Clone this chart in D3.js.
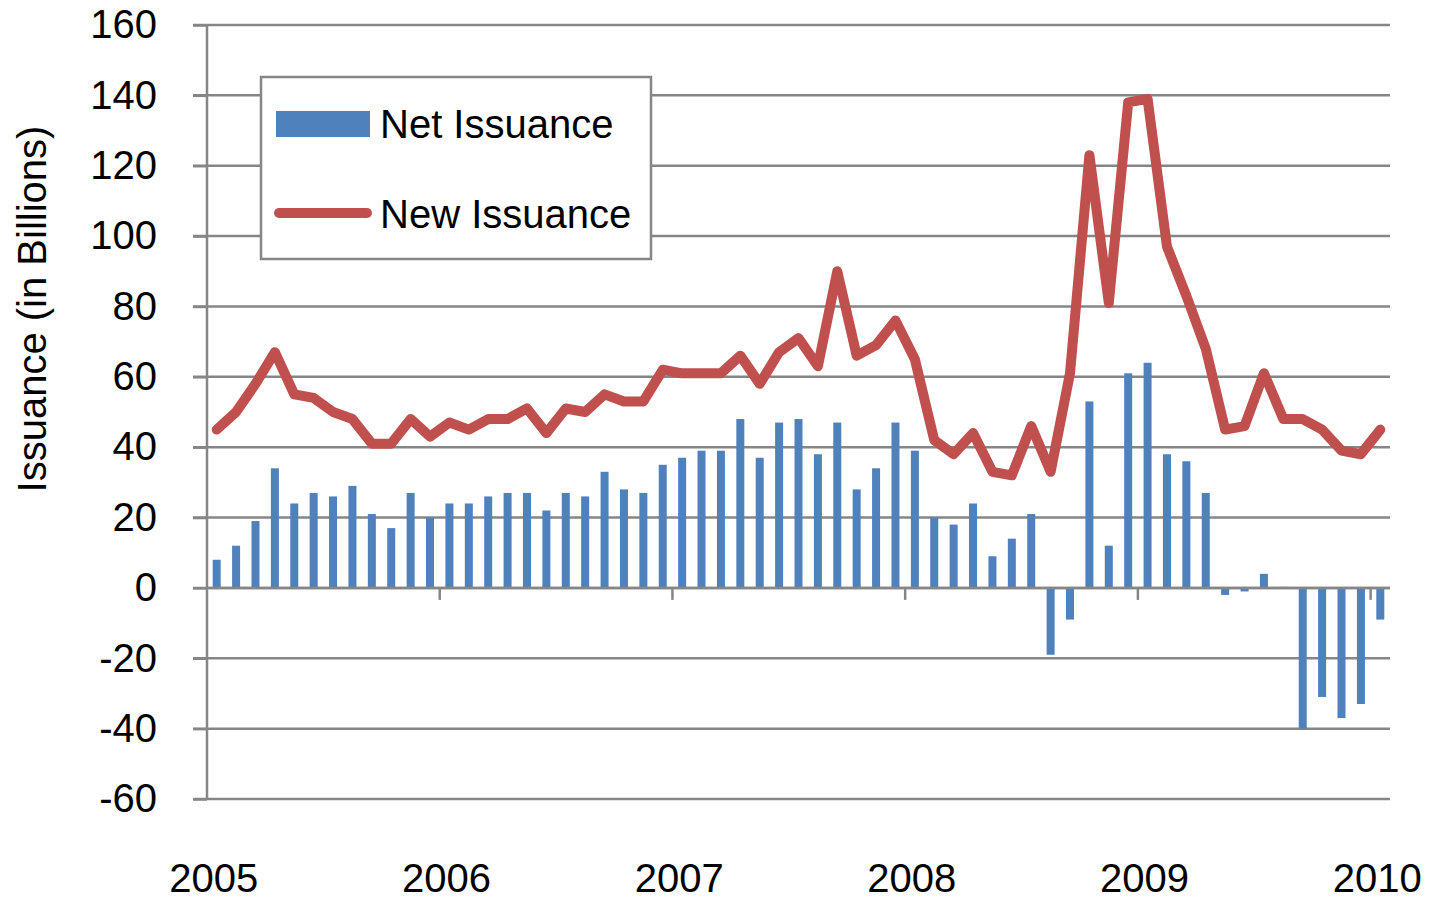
<!DOCTYPE html>
<html>
<head>
<meta charset="utf-8">
<script src="https://cdn.jsdelivr.net/npm/d3@7"></script>
<style>
  body { margin: 0; background: #fff; }
  text { font-family: "Liberation Sans", Arial, sans-serif; fill: #000; }
</style>
</head>
<body>
<div id="chart"></div>
<script>
// monthly categories, Jan 2005 .. Jan 2010
var months = d3.timeMonth.range(new Date(2005, 0, 1), new Date(2010, 1, 1));
var yearLabels = ["2005", "2006", "2007", "2008", "2009", "2010"];
var yTicks = [160, 140, 120, 100, 80, 60, 40, 20, 0, -20, -40, -60];

// Net Issuance (bars), billions
var netIssuance = [
  8, 12, 19, 34, 24, 27, 26, 29, 21, 17, 27, 20,
  24, 24, 26, 27, 27, 22, 27, 26, 33, 28, 27, 35,
  37, 39, 39, 48, 37, 47, 48, 38, 47, 28, 34, 47,
  39, 20, 18, 24, 9, 14, 21, -19, -9, 53, 12, 61,
  64, 38, 36, 27, -2, -1, 4, 0.3, -40, -31, -37, -33,
  -9
];

// New Issuance (line), billions
var newIssuance = [
  45, 50, 58, 67, 55, 54, 50, 48, 41, 41, 48, 43,
  47, 45, 48, 48, 51, 44, 51, 50, 55, 53, 53, 62,
  61, 61, 61, 66, 58, 67, 71, 63, 90, 66, 69, 76,
  65, 42, 38, 44, 33, 32, 46, 33, 61, 123, 81, 138,
  139, 97, 83, 68, 45, 46, 61, 48, 48, 45, 39, 38,
  45
];

var W = 1441, H = 899;
var plotLeft = 207, plotRight = 1390, plotTop = 25, plotBottom = 799;
var gridColor = "#868686";

var svg = d3.select("#chart")
    .append("svg")
    .attr("width", W)
    .attr("height", H);

var fmt = d3.timeFormat("%Y-%m");
var x = d3.scaleBand()
    .domain(months.map(fmt))
    .range([plotLeft, plotRight]);

var y = d3.scaleLinear()
    .domain([-60, 160])
    .range([plotBottom, plotTop]);

// gridlines
svg.append("g")
    .selectAll("line")
    .data(yTicks)
    .enter()
    .append("line")
    .attr("x1", plotLeft - 14)
    .attr("x2", plotRight)
    .attr("y1", function (d) { return y(d); })
    .attr("y2", function (d) { return y(d); })
    .attr("stroke", gridColor)
    .attr("stroke-width", 2.5);

// y axis labels (plain hyphen for negatives)
var yAxis = svg.append("g")
    .attr("transform", "translate(" + plotLeft + ",0)")
    .call(d3.axisLeft(y).tickValues(yTicks).tickSize(14).tickPadding(36)
        .tickFormat(function (d) { return String(d); }));
yAxis.select(".domain").remove();
yAxis.selectAll(".tick line").attr("stroke", gridColor).attr("stroke-width", 2.5);
yAxis.selectAll(".tick text")
    .style("font-family", "'Liberation Sans', Arial, sans-serif")
    .style("font-size", "40px")
    .attr("fill", "#000");

svg.append("line")
    .attr("x1", plotLeft).attr("x2", plotLeft)
    .attr("y1", y(160)).attr("y2", y(-60))
    .attr("stroke", gridColor)
    .attr("stroke-width", 2.5);

// bars
var barW = 8;
svg.append("g")
    .selectAll("rect")
    .data(netIssuance)
    .enter()
    .append("rect")
    .attr("x", function (d, i) { return x(fmt(months[i])) + (x.bandwidth() - barW) / 2; })
    .attr("y", function (d) { return y(Math.max(0, d)); })
    .attr("width", barW)
    .attr("height", function (d) { return Math.abs(y(d) - y(0)); })
    .attr("fill", "#4F81BD");

// horizontal axis at zero with year ticks
svg.append("line")
    .attr("x1", plotLeft).attr("x2", plotRight)
    .attr("y1", y(0)).attr("y2", y(0))
    .attr("stroke", gridColor)
    .attr("stroke-width", 2.5);

var janMonths = months.filter(function (d) { return d.getMonth() === 0; });
svg.append("g")
    .selectAll("line")
    .data(janMonths.slice(1))
    .enter()
    .append("line")
    .attr("x1", function (d) { return x(fmt(d)); })
    .attr("x2", function (d) { return x(fmt(d)); })
    .attr("y1", y(0))
    .attr("y2", y(0) + 12)
    .attr("stroke", gridColor)
    .attr("stroke-width", 2.5);

svg.append("g")
    .selectAll("text")
    .data(janMonths)
    .enter()
    .append("text")
    .attr("x", function (d) { return x(fmt(d)) + x.bandwidth() / 2 - 3; })
    .attr("y", 892)
    .attr("text-anchor", "middle")
    .style("font-size", "40px")
    .text(function (d, i) { return yearLabels[i]; });

// new issuance line
var line = d3.line()
    .x(function (d, i) { return x(fmt(months[i])) + x.bandwidth() / 2; })
    .y(function (d) { return y(d); });

svg.append("path")
    .datum(newIssuance)
    .attr("d", line)
    .attr("fill", "none")
    .attr("stroke", "#C0504D")
    .attr("stroke-width", 10)
    .attr("stroke-linejoin", "round")
    .attr("stroke-linecap", "round");

// y axis title
svg.append("text")
    .attr("transform", "translate(46,309) rotate(-90)")
    .attr("text-anchor", "middle")
    .style("font-size", "40px")
    .text("Issuance (in Billions)");

// legend
var legend = svg.append("g");
legend.append("rect")
    .attr("x", 261).attr("y", 77)
    .attr("width", 390).attr("height", 182)
    .attr("fill", "#fff")
    .attr("stroke", gridColor)
    .attr("stroke-width", 2.5);
legend.append("rect")
    .attr("x", 276).attr("y", 111)
    .attr("width", 94).attr("height", 26)
    .attr("fill", "#4F81BD");
legend.append("line")
    .attr("x1", 279).attr("x2", 367)
    .attr("y1", 213).attr("y2", 213)
    .attr("stroke", "#C0504D")
    .attr("stroke-width", 10)
    .attr("stroke-linecap", "round");
legend.append("text")
    .attr("x", 380).attr("y", 138)
    .style("font-size", "40px")
    .text("Net Issuance");
legend.append("text")
    .attr("x", 380).attr("y", 228)
    .style("font-size", "40px")
    .text("New Issuance");
</script>
</body>
</html>
